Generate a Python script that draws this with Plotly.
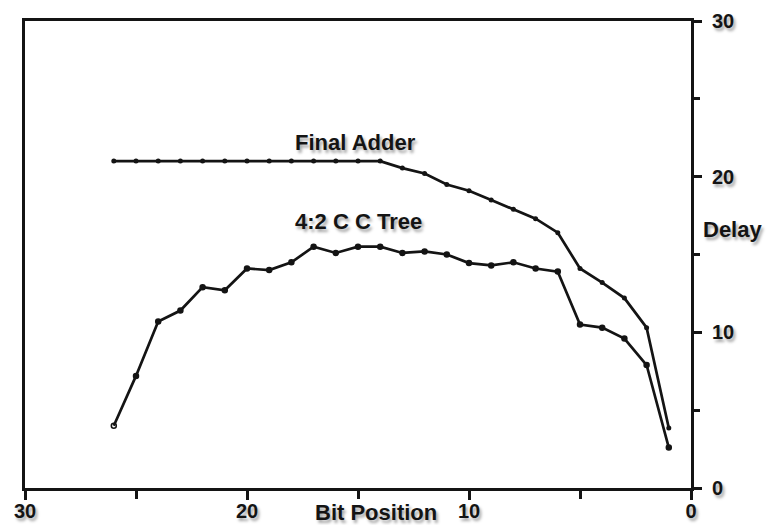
import plotly.graph_objects as go

bits = [26, 25, 24, 23, 22, 21, 20, 19, 18, 17, 16, 15, 14, 13, 12, 11, 10, 9, 8, 7, 6, 5, 4, 3, 2, 1]
final_adder = [21.0, 21.0, 21.0, 21.0, 21.0, 21.0, 21.0, 21.0, 21.0, 21.0, 21.0, 21.0, 21.0,
               20.55, 20.2, 19.5, 19.1, 18.5, 17.9, 17.3, 16.4, 14.1, 13.2, 12.2, 10.3, 3.85]
cc_tree = [4.0, 7.2, 10.7, 11.4, 12.9, 12.7, 14.1, 14.0, 14.5, 15.5, 15.1, 15.5, 15.5,
           15.1, 15.2, 15.0, 14.45, 14.3, 14.5, 14.1, 13.9, 10.5, 10.3, 9.6, 7.9, 2.6]
x_ticks = [30, 20, 10, 0]
y_ticks = [30, 20, 10, 0]

INK = "#141414"
SHADOW = "2px 3px 3px rgba(0,0,0,0.35)"
FONT = "Liberation Sans, Arial, sans-serif"

fig = go.Figure()
fig.add_trace(go.Scatter(
    x=bits, y=final_adder, mode="lines+markers",
    line=dict(color=INK, width=2.7),
    marker=dict(size=5, color=INK),
    showlegend=False, cliponaxis=False,
))
tree_symbols = ["circle-open"] + ["circle"] * (len(bits) - 1)
fig.add_trace(go.Scatter(
    x=bits, y=cc_tree, mode="lines+markers",
    line=dict(color=INK, width=2.7),
    marker=dict(size=5, color=INK, symbol=tree_symbols, line=dict(width=1.5, color=INK)),
    showlegend=False, cliponaxis=False,
))

tickfont = dict(family=FONT, size=20, color=INK, weight="bold", shadow=SHADOW)

fig.update_xaxes(
    range=[30, 0], tickvals=x_ticks, ticktext=[str(v) for v in x_ticks],
    showgrid=False, zeroline=False, automargin=False,
    showline=True, linecolor=INK, linewidth=3, mirror=True,
    ticks="outside", ticklen=9, tickwidth=2.5, tickcolor=INK,
    minor=dict(tickvals=[25, 15, 5], ticks="outside", ticklen=8, tickwidth=2.5, tickcolor=INK),
    tickfont=tickfont, ticklabelstandoff=-6,
)
fig.update_yaxes(
    range=[0, 30], side="right", tickvals=y_ticks, ticktext=[str(v) for v in y_ticks],
    showgrid=False, zeroline=False, automargin=False,
    showline=True, linecolor=INK, linewidth=3, mirror=True,
    ticks="outside", ticklen=8, tickwidth=2.5, tickcolor=INK,
    minor=dict(tickvals=[25, 15, 5], ticks="outside", ticklen=6, tickwidth=2.5, tickcolor=INK),
    tickfont=tickfont, ticklabelstandoff=6,
)

annfont = dict(family=FONT, size=22, color=INK, weight="bold", shadow=SHADOW)
fig.add_annotation(x=15.1, y=22.2, xref="x", yref="y", text="Final Adder",
                   showarrow=False, font=annfont, xanchor="center", yanchor="middle")
fig.add_annotation(x=15.0, y=17.1, xref="x", yref="y", text="4:2 C C Tree",
                   showarrow=False, font=annfont, xanchor="center", yanchor="middle")
fig.add_annotation(x=14.2, y=-0.052, xref="x", yref="paper", text="Bit Position",
                   showarrow=False, font=annfont, xanchor="center", yanchor="middle")
fig.add_annotation(x=1.063, y=16.6, xref="paper", yref="y", text="Delay",
                   showarrow=False, font=annfont, xanchor="center", yanchor="middle")

fig.update_layout(
    width=767, height=525,
    margin=dict(l=25, r=76, t=21, b=37),
    paper_bgcolor="white", plot_bgcolor="white",
)

fig.write_html("out.html")
